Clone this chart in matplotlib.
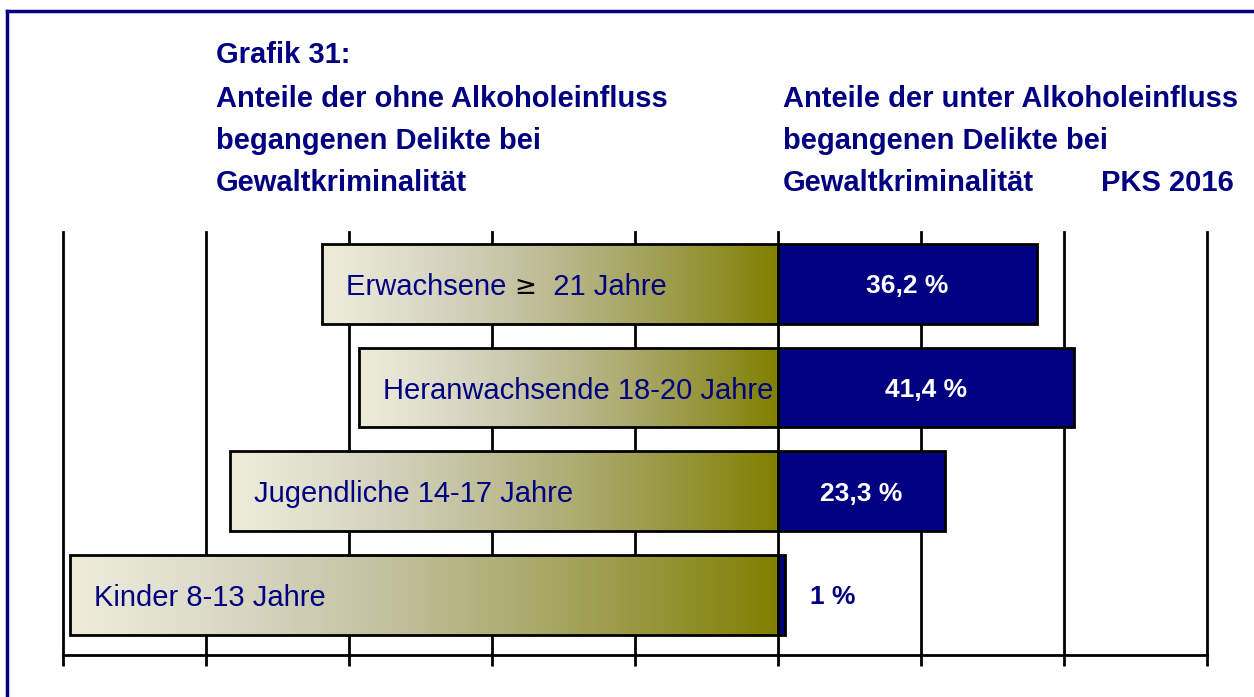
import matplotlib
matplotlib.use("Agg")
import matplotlib.pyplot as plt
import numpy as np

plt.rcParams['font.family'] = ['Liberation Sans', 'DejaVu Sans']

categories = ["Kinder 8-13 Jahre", "Jugendliche 14-17 Jahre",
              "Heranwachsende 18-20 Jahre", "Erwachsene \u2265  21 Jahre"]
unter = [1.0, 23.3, 41.4, 36.2]           # unter Alkoholeinfluss (%)
ohne = [100 - v for v in unter]            # ohne Alkoholeinfluss (%)
value_labels = ["1 %", "23,3 %", "41,4 %", "36,2 %"]
xticks = [-100, -80, -60, -40, -20, 0, 20, 40, 60]

NAVY = "#000080"
OLIVE = np.array([128, 128, 0]) / 255
CREAM = np.array([237, 235, 216]) / 255

W, H = 1254, 697
fig = plt.figure(figsize=(W / 100, H / 100), dpi=100)
ax = fig.add_axes([63 / W, (H - 655) / H, (1207 - 63) / W, (655 - 232) / H])

ypos = np.arange(len(categories))
bh = 0.77

# gradient image (cream -> olive)
t = np.linspace(0, 1, 256)
grad = np.zeros((1, 256, 3))
grad[0, :, 0] = CREAM[0] + (OLIVE[0] - CREAM[0]) * t ** 1.15
grad[0, :, 1] = CREAM[1] + (OLIVE[1] - CREAM[1]) * t ** 1.15
grad[0, :, 2] = CREAM[2] + (OLIVE[2] - CREAM[2]) * t ** 1.6

left_bars = ax.barh(ypos, [-v for v in ohne], height=bh, color="none",
                    edgecolor="black", linewidth=2, zorder=3)
for b in left_bars:
    x0, y0 = b.get_x() + b.get_width(), b.get_y()
    x1, y1 = b.get_x(), b.get_y() + b.get_height()
    im = ax.imshow(grad, extent=[x0, x1, y0, y1], aspect="auto",
                   interpolation="bilinear", zorder=2)
    im.set_clip_path(b)
ax.barh(ypos, unter, height=bh, color=NAVY, edgecolor="black",
        linewidth=2, zorder=3)

ax.set_xlim(-100, 60)
ax.set_ylim(-0.58, 3.5)
ax.set_xticks(xticks)
ax.set_xticklabels([])
ax.set_yticks([])
for x in xticks:
    ax.axvline(x, color="black", lw=2, zorder=1, clip_on=False)
for s in ["top", "left", "right"]:
    ax.spines[s].set_visible(False)
ax.spines["bottom"].set_linewidth(2)
ax.tick_params(axis="x", direction="out", length=8, width=2, color="black")

# category labels
fs_cat = 21
fig.canvas.draw()
r = fig.canvas.get_renderer()
for i, (cat, o) in enumerate(zip(categories, ohne)):
    xl = -o + 3.4
    if "\u2265" in cat:
        a, rest = cat.split("\u2265")
        t1 = ax.text(xl, i, a, color=NAVY, fontsize=fs_cat, va="center_baseline",
                     ha="left", zorder=5)
        bb = t1.get_window_extent(r)
        xd = ax.transData.inverted().transform((bb.x1, 0))[0]
        t2 = ax.text(xd, i, "\u2265", color="black", fontsize=fs_cat * 0.9,
                     va="center_baseline", ha="left", family="DejaVu Sans", zorder=5)
        bb2 = t2.get_window_extent(r)
        xd2 = ax.transData.inverted().transform((bb2.x1, 0))[0]
        ax.text(xd2, i, rest, color=NAVY, fontsize=fs_cat, va="center_baseline",
                ha="left", zorder=5)
    else:
        ax.text(xl, i, cat, color=NAVY, fontsize=fs_cat, va="center_baseline",
                ha="left", zorder=5)

# value labels
for i, (v, lab) in enumerate(zip(unter, value_labels)):
    if v > 5:
        ax.text(v / 2, i, lab, color="white", fontsize=19, fontweight="bold",
                va="center_baseline", ha="center", zorder=5)
    else:
        ax.text(v + 6.7, i, lab, color=NAVY, fontsize=19, fontweight="bold",
                va="center_baseline", ha="center", zorder=5)

# titles
fs_t = 21
left_lines = ["Grafik 31:", "Anteile der ohne Alkoholeinfluss",
              "begangenen Delikte bei", "Gewaltkriminalit\u00e4t"]
line_y = [55, 99, 141, 183]
for s, y in zip(left_lines, line_y):
    fig.text(216 / W, 1 - y / H, s, color=NAVY, fontsize=fs_t, fontweight="bold",
             ha="left", va="center")
right_lines = ["Anteile der unter Alkoholeinfluss", "begangenen Delikte bei",
               "Gewaltkriminalit\u00e4t"]
for s, y in zip(right_lines, line_y[1:]):
    fig.text(783 / W, 1 - y / H, s, color=NAVY, fontsize=fs_t, fontweight="bold",
             ha="left", va="center")
fig.text(1101 / W, 1 - 183 / H, "PKS 2016", color=NAVY, fontsize=fs_t,
         fontweight="bold", ha="left", va="center")

# frame
fig.add_artist(plt.Line2D([7 / W, 7 / W], [0, 1 - 11 / H], color=NAVY, lw=2.5,
                          transform=fig.transFigure))
fig.add_artist(plt.Line2D([7 / W, 1], [1 - 11 / H, 1 - 11 / H], color=NAVY, lw=2.5,
                          transform=fig.transFigure))

fig.savefig("out.png", dpi=100)
